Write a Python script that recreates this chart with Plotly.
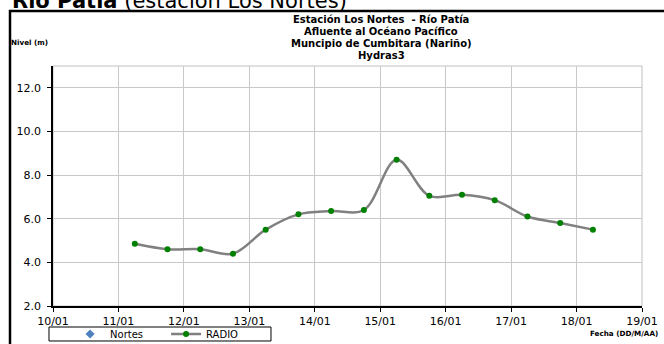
import plotly.graph_objects as go

# Datos (nivel en metros)
fechas = ['2011-01-11 06:00', '2011-01-11 18:00', '2011-01-12 06:00', '2011-01-12 18:00',
          '2011-01-13 06:00', '2011-01-13 18:00', '2011-01-14 06:00', '2011-01-14 18:00',
          '2011-01-15 06:00', '2011-01-15 18:00', '2011-01-16 06:00', '2011-01-16 18:00',
          '2011-01-17 06:00', '2011-01-17 18:00', '2011-01-18 06:00']
radio = [4.85, 4.6, 4.6, 4.4, 5.5, 6.2, 6.35, 6.4, 8.7, 7.05, 7.1, 6.85, 6.1, 5.8, 5.5]

titulo = ['Estación Los Nortes  - Río Patía', 'Afluente al Océano Pacífico',
          'Muncipio de Cumbitara (Nariño)', 'Hydras3']

fuente = 'DejaVu Sans, Arial, sans-serif'

fig = go.Figure()

# Serie sin datos, solo aparece en la leyenda
fig.add_trace(go.Scatter(x=[None], y=[None], name='Nortes', mode='markers',
                         marker=dict(symbol='diamond', size=7, color='#4F81BD')))
fig.add_trace(go.Scatter(x=fechas, y=radio, name='RADIO', mode='lines+markers',
                         line=dict(color='#808080', width=2.5, shape='spline', smoothing=1.0),
                         marker=dict(color='#008000', size=6)))

fig.update_layout(
    width=664, height=344,
    margin=dict(l=53, r=22, t=66, b=38, autoexpand=False),
    paper_bgcolor='white', plot_bgcolor='white',
    font=dict(family=fuente, size=10, color='black'),
    showlegend=True,
    legend=dict(orientation='h', x=0.029, y=-0.1167, xanchor='left', yanchor='middle',
                bgcolor='rgba(0,0,0,0)', borderwidth=0, font=dict(size=10),
                entrywidth=51, itemwidth=30, tracegroupgap=0),
    xaxis=dict(type='date', range=['2011-01-10', '2011-01-19'], automargin=False,
               dtick=86400000, tick0='2011-01-10', tickformat='%d/%m',
               showgrid=True, gridcolor='#C8C8C8', gridwidth=1,
               showline=True, linecolor='black', linewidth=1.5,
               ticks='outside', ticklen=4, tickcolor='black', tickfont=dict(size=11)),
    yaxis=dict(range=[2, 13], dtick=2, tick0=2, tickformat='.1f', automargin=False,
               showgrid=True, gridcolor='#C8C8C8', gridwidth=1,
               showline=True, linecolor='black', linewidth=1.5,
               ticks='outside', ticklen=4, tickcolor='black', tickfont=dict(size=11),
               ticklabelstandoff=4, zeroline=False),
    shapes=[
        # marco del area de grafico
        dict(type='rect', xref='paper', yref='paper', x0=0, x1=1, y0=0, y1=1,
             line=dict(color='#C0C0C0', width=1), layer='below'),
        # caja de la leyenda
        dict(type='rect', xref='paper', yref='paper', x0=-0.0068, x1=0.3701, y0=-0.1458, y1=-0.0875,
             line=dict(color='black', width=1)),
        # marco negro exterior
        dict(type='rect', xref='paper', yref='paper', x0=-0.073, x1=1.2, y0=-0.3, y1=1.229,
             line=dict(color='black', width=2.5)),
    ],
    annotations=[
        dict(text='<b>Nivel (m)</b>', xref='paper', yref='paper', x=-0.075, y=1.0998,
             xanchor='left', yanchor='middle', showarrow=False, font=dict(size=7.2)),
        dict(text='<b>Fecha (DD/M/AA)</b>', xref='paper', yref='paper', x=1.0306, y=-0.1125,
             xanchor='right', yanchor='middle', showarrow=False, font=dict(size=7.2)),
        dict(text='<b>Río Patía</b> (estación Los Nortes)', xref='paper', yref='paper',
             x=-0.073, y=1.272, xanchor='left', yanchor='middle', showarrow=False,
             font=dict(size=21)),
    ],
)

# titulo centrado, una anotacion por linea para controlar el interlineado
for linea, yp in zip(titulo, [1.1917, 1.1417, 1.0917, 1.0417]):
    fig.add_annotation(text='<b>' + linea + '</b>', xref='paper', yref='paper',
                       x=0.557, y=yp, xanchor='center', yanchor='middle',
                       showarrow=False, font=dict(size=10))

# sin margen del body para que la figura ocupe toda la ventana
fig.write_html("out.html", config={'displayModeBar': False},
               post_script="document.body.style.margin='0';")
